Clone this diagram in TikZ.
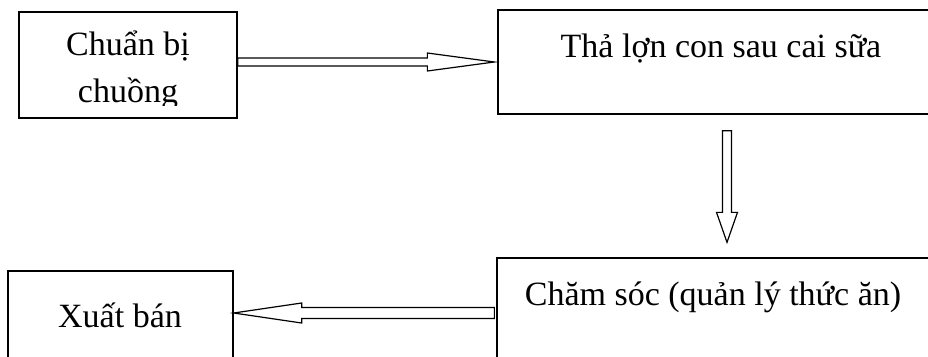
\documentclass[tikz,border=0pt]{standalone}
\usepackage{fontspec}
\setmainfont{Liberation Serif}
\usetikzlibrary{calc}
\begin{document}
\begin{tikzpicture}[x=1pt,y=-1pt,
      box/.style={draw,line width=1.3pt,inner sep=0pt},
      txt/.style={font=\fontsize{34}{47}\selectfont,inner sep=0pt},
      hollow/.style n args={3}{line width=1.2pt,to path={
        ($(\tikztostart)!#1!90:(\tikztotarget)$)
        -- ($($(\tikztotarget)!#3!(\tikztostart)$)!#1!90:(\tikztotarget)$)
        -- ($($(\tikztotarget)!#3!(\tikztostart)$)!#2!90:(\tikztotarget)$)
        -- (\tikztotarget)
        -- ($($(\tikztotarget)!#3!(\tikztostart)$)!#2!-90:(\tikztotarget)$)
        -- ($($(\tikztotarget)!#3!(\tikztostart)$)!#1!-90:(\tikztotarget)$)
        -- ($(\tikztostart)!#1!-90:(\tikztotarget)$) -- cycle}}]
      \useasboundingbox (0,0) rectangle (928,356);
      \clip (0,0) rectangle (928,356);
      \node[box,minimum width=218pt,minimum height=106pt] (prep) at (128,65) {};
      \node[box,minimum width=446pt,minimum height=104pt] (release) at (721,62) {};
      \node[box,minimum width=438pt,minimum height=122pt] (care) at (716,319) {};
      \node[box,minimum width=225pt,minimum height=109pt] (sale) at (120.5,325.5) {};
      \begin{scope}
       \clip (19,12) rectangle (237,105);
       \node[txt,align=center,anchor=base] (prepT) at (128,102) {Chuẩn bị\\chuồng};
      \end{scope}
      \node[txt,anchor=base] (releaseT) at (721,57) {Thả lợn con sau cai sữa};
      \node[txt,anchor=base] (careT) at (713,305) {Chăm sóc (quản lý thức ăn)};
      \node[txt,anchor=base] (saleT) at (120,327) {Xuất bán};
      \coordinate (col) at (727,0);
      \coordinate (lvl) at (0,313);
      \draw[hollow={4pt}{9pt}{67pt}] (prep.east |- release.west) to ([xshift=-3pt]release.west);
      \draw[hollow={4.5pt}{10.5pt}{30pt}] ($(col |- release.south)+(0,16)$) to ($(col |- care.north)+(0,-15)$);
      \draw[hollow={5.5pt}{10pt}{68pt}] ($(care.west |- lvl)+(-2,0)$) to (sale.east |- lvl);
     \end{tikzpicture}
\end{document}
